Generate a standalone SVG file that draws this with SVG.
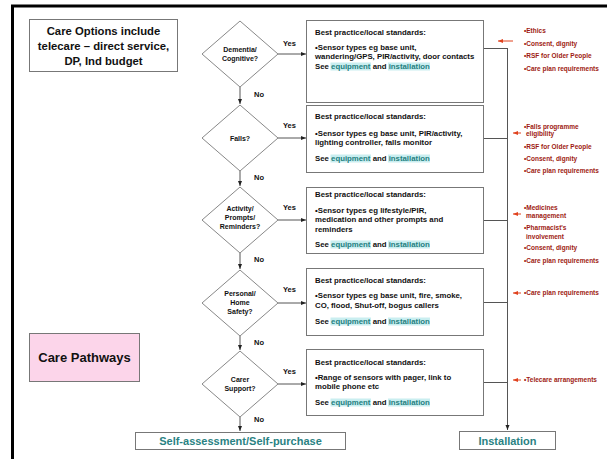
<svg xmlns="http://www.w3.org/2000/svg" width="607" height="459" viewBox="0 0 607 459">
<defs>
<marker id="ah" viewBox="0 0 10 10" refX="10" refY="5" markerWidth="5" markerHeight="5" orient="auto"><path d="M0,1 L10,5 L0,9 z" fill="#222"/></marker>
<marker id="ahr" viewBox="0 0 10 10" refX="10" refY="5" markerWidth="5" markerHeight="5" orient="auto"><path d="M0,1 L10,5 L0,9 z" fill="#e0421e"/></marker>
<style>
text{font-family:"Liberation Sans",Arial,sans-serif;}
.box{fill:#fff;stroke:#777;stroke-width:1;}
.dia{fill:#fff;stroke:#888;stroke-width:1;}
.ln{stroke:#555;stroke-width:1;fill:none;}
.lnr{stroke:#e0421e;stroke-width:1;fill:none;}
.bt{font-size:7.8px;font-weight:bold;fill:#111;}
.dt{font-size:7px;font-weight:bold;fill:#111;text-anchor:middle;}
.yn{font-size:7.5px;font-weight:bold;fill:#111;}
.lk{fill:#1f7f80;}
.hl{fill:#c9eef0;}
.rt{font-size:6.5px;font-weight:bold;fill:#9e1a12;}
.big{font-size:11.3px;font-weight:bold;fill:#111;text-anchor:middle;}
.tl{font-size:11px;font-weight:bold;fill:#2a8283;text-anchor:middle;}
</style>
</defs>
<rect width="607" height="459" fill="#fff"/>
<path d="M12.5,459 V6 H607" stroke="#000" stroke-width="3" fill="none"/>

<g id="care-options">
<rect class="box" x="29.5" y="19.5" width="148" height="52"/>
<text class="big" x="103.5" y="35">Care Options include</text>
<text class="big" x="103.5" y="50">telecare – direct service,</text>
<text class="big" x="103.5" y="65">DP, Ind budget</text>
</g>

<g id="care-pathways">
<rect x="29.5" y="333.5" width="110" height="48" fill="#fcd5ea" stroke="#777"/>
<text x="84.5" y="362" font-size="13" font-weight="bold" text-anchor="middle" fill="#111">Care Pathways</text>
</g>

<g id="connectors">
<line class="ln" x1="240" y1="87" x2="240" y2="104" marker-end="url(#ah)"/>
<line class="ln" x1="240" y1="171" x2="240" y2="186" marker-end="url(#ah)"/>
<line class="ln" x1="240" y1="253" x2="240" y2="269" marker-end="url(#ah)"/>
<line class="ln" x1="240" y1="336" x2="240" y2="350" marker-end="url(#ah)"/>
<line class="ln" x1="240" y1="417" x2="240" y2="431" marker-end="url(#ah)"/>
<line class="ln" x1="278" y1="54" x2="306" y2="54" marker-end="url(#ah)"/>
<line class="ln" x1="278" y1="138" x2="306" y2="138" marker-end="url(#ah)"/>
<line class="ln" x1="278" y1="220" x2="306" y2="220" marker-end="url(#ah)"/>
<line class="ln" x1="278" y1="303" x2="306" y2="303" marker-end="url(#ah)"/>
<line class="ln" x1="278" y1="384" x2="306" y2="384" marker-end="url(#ah)"/>
<line class="ln" x1="484" y1="48.5" x2="507.5" y2="48.5"/>
<line class="ln" x1="484" y1="138.5" x2="507.5" y2="138.5"/>
<line class="ln" x1="484" y1="220.5" x2="507.5" y2="220.5"/>
<line class="ln" x1="484" y1="302.5" x2="507.5" y2="302.5"/>
<line class="ln" x1="484" y1="382.5" x2="507.5" y2="382.5"/>
<line class="ln" x1="507.5" y1="48" x2="507.5" y2="430" marker-end="url(#ah)"/>
<line class="lnr" x1="513" y1="41" x2="498" y2="41" marker-end="url(#ahr)"/>
<line class="lnr" x1="521" y1="133" x2="513" y2="133" marker-end="url(#ahr)"/>
<line class="lnr" x1="521" y1="214" x2="513" y2="214" marker-end="url(#ahr)"/>
<line class="lnr" x1="521" y1="293" x2="513" y2="293" marker-end="url(#ahr)"/>
<line class="lnr" x1="521" y1="380" x2="513" y2="380" marker-end="url(#ahr)"/>
<text class="yn" x="283" y="46">Yes</text>
<text class="yn" x="283" y="128">Yes</text>
<text class="yn" x="283" y="210">Yes</text>
<text class="yn" x="283" y="292">Yes</text>
<text class="yn" x="283" y="374">Yes</text>
<text class="yn" x="254" y="97">No</text>
<text class="yn" x="254" y="180">No</text>
<text class="yn" x="254" y="262">No</text>
<text class="yn" x="254" y="345">No</text>
<text class="yn" x="254" y="422">No</text>
</g>

<g id="d-dementia">
<polygon class="dia" points="240,21 278,54 240,87 202,54"/>
<text class="dt" x="240" y="52">Dementia/</text>
<text class="dt" x="240" y="61">Cognitive?</text>
</g>
<g id="d-falls">
<polygon class="dia" points="240,105 278,138 240,171 202,138"/>
<text class="dt" x="240" y="141">Falls?</text>
</g>
<g id="d-activity">
<polygon class="dia" points="240,187 278,220 240,253 202,220"/>
<text class="dt" x="240" y="211">Activity/</text>
<text class="dt" x="240" y="220">Prompts/</text>
<text class="dt" x="240" y="229">Reminders?</text>
</g>
<g id="d-personal">
<polygon class="dia" points="240,270 278,303 240,336 202,303"/>
<text class="dt" x="240" y="296">Personal/</text>
<text class="dt" x="240" y="305">Home</text>
<text class="dt" x="240" y="314">Safety?</text>
</g>
<g id="d-carer">
<polygon class="dia" points="240,351 278,384 240,417 202,384"/>
<text class="dt" x="240" y="382">Carer</text>
<text class="dt" x="240" y="391">Support?</text>
</g>

<g id="b-dementia">
<rect class="box" x="306.5" y="20.5" width="177" height="82"/>
<text class="bt" x="315" y="35">Best practice/local  standards:</text>
<text class="bt" x="315" y="50">•Sensor types eg base unit,</text>
<text class="bt" x="315" y="59">wandering/GPS, PIR/activity, door contacts</text>
<rect class="hl" x="330.5" y="62.5" width="40.5" height="8"/><rect class="hl" x="388" y="62.5" width="42" height="8"/>
<text class="bt" x="315" y="69">See <tspan class="lk">equipment</tspan> and <tspan class="lk">installation</tspan></text>
</g>
<g id="b-falls">
<rect class="box" x="306.5" y="105.5" width="177" height="67"/>
<text class="bt" x="315" y="119">Best practice/local  standards:</text>
<text class="bt" x="315" y="136">•Sensor types eg base unit, PIR/activity,</text>
<text class="bt" x="315" y="145">lighting controller, falls monitor</text>
<rect class="hl" x="330.5" y="154.5" width="40.5" height="8"/><rect class="hl" x="388" y="154.5" width="42" height="8"/>
<text class="bt" x="315" y="161">See <tspan class="lk">equipment</tspan> and <tspan class="lk">installation</tspan></text>
</g>
<g id="b-activity">
<rect class="box" x="306.5" y="187.5" width="177" height="66"/>
<text class="bt" x="315" y="197">Best practice/local  standards:</text>
<text class="bt" x="315" y="213">•Sensor types eg lifestyle/PIR,</text>
<text class="bt" x="315" y="222">medication and other prompts and</text>
<text class="bt" x="315" y="232">reminders</text>
<rect class="hl" x="330.5" y="240.5" width="40.5" height="8"/><rect class="hl" x="388" y="240.5" width="42" height="8"/>
<text class="bt" x="315" y="247">See <tspan class="lk">equipment</tspan> and <tspan class="lk">installation</tspan></text>
</g>
<g id="b-personal">
<rect class="box" x="306.5" y="268.5" width="177" height="67"/>
<text class="bt" x="315" y="283">Best practice/local  standards:</text>
<text class="bt" x="315" y="298">•Sensor types eg base unit, fire, smoke,</text>
<text class="bt" x="315" y="308">CO, flood, Shut-off, bogus callers</text>
<rect class="hl" x="330.5" y="317.5" width="40.5" height="8"/><rect class="hl" x="388" y="317.5" width="42" height="8"/>
<text class="bt" x="315" y="324">See <tspan class="lk">equipment</tspan> and <tspan class="lk">installation</tspan></text>
</g>
<g id="b-carer">
<rect class="box" x="306.5" y="349.5" width="177" height="66"/>
<text class="bt" x="315" y="365">Best practice/local  standards:</text>
<text class="bt" x="315" y="380">•Range of sensors with pager, link to</text>
<text class="bt" x="315" y="389">mobile phone etc</text>
<rect class="hl" x="330.5" y="398.5" width="40.5" height="8"/><rect class="hl" x="388" y="398.5" width="42" height="8"/>
<text class="bt" x="315" y="405">See <tspan class="lk">equipment</tspan> and <tspan class="lk">installation</tspan></text>
</g>

<g id="n-dementia">
<text class="rt" x="524" y="33">•Ethics</text>
<text class="rt" x="524" y="46">•Consent, dignity</text>
<text class="rt" x="524" y="58">•RSF for Older People</text>
<text class="rt" x="524" y="71">•Care plan requirements</text>
</g>
<g id="n-falls">
<text class="rt" x="524" y="129">•Falls programme</text>
<text class="rt" x="526" y="136">eligibility</text>
<text class="rt" x="524" y="149">•RSF for Older People</text>
<text class="rt" x="524" y="161">•Consent, dignity</text>
<text class="rt" x="524" y="173">•Care plan requirements</text>
</g>
<g id="n-activity">
<text class="rt" x="524" y="210">•Medicines</text>
<text class="rt" x="526" y="218">management</text>
<text class="rt" x="524" y="230">•Pharmacist's</text>
<text class="rt" x="526" y="239">involvement</text>
<text class="rt" x="524" y="250">•Consent, dignity</text>
<text class="rt" x="524" y="263">•Care plan requirements</text>
</g>
<g id="n-personal">
<text class="rt" x="524" y="295">•Care plan requirements</text>
</g>
<g id="n-carer">
<text class="rt" x="524" y="382">•Telecare arrangements</text>
</g>

<g id="self-assessment">
<rect class="box" x="135.5" y="432.5" width="210" height="17"/>
<text class="tl" x="240.5" y="445">Self-assessment/Self-purchase</text>
</g>
<g id="installation">
<rect class="box" x="459.5" y="431.5" width="96" height="18"/>
<text class="tl" x="507.5" y="444.5">Installation</text>
</g>
</svg>
